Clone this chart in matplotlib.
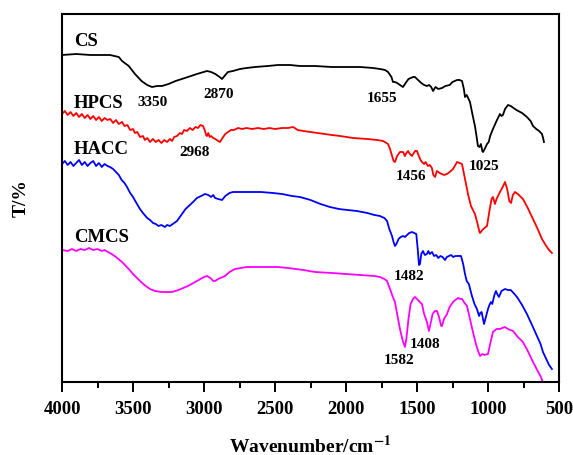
import numpy as np
import matplotlib
matplotlib.use("Agg")
import matplotlib.pyplot as plt
from matplotlib.ticker import MultipleLocator

plt.rcParams['font.family'] = ['Liberation Serif', 'DejaVu Serif']
plt.rcParams['font.weight'] = 'bold'
plt.rcParams['mathtext.fontset'] = 'stix'

# FTIR spectra (wavenumber in cm^-1). Curves are stacked; values are given as
# depth below the top of the plotting window and converted to T below.
cs_wn = [4000, 3900, 3800, 3700, 3662, 3600, 3577, 3530, 3486, 3440, 3400, 3366, 3330, 3296,
         3250, 3200, 3113, 3050, 2979, 2950, 2920, 2890, 2873, 2850, 2831, 2796, 2747, 2700,
         2641, 2550, 2480, 2394, 2324, 2218, 2100, 2000, 1900, 1810, 1761, 1725, 1704, 1680,
         1669, 1655, 1640, 1620, 1599, 1580, 1560, 1528, 1514, 1500, 1470, 1450, 1430, 1415,
         1400, 1387, 1370, 1350, 1324, 1300, 1270, 1250, 1218, 1200, 1183, 1170, 1162, 1150,
         1140, 1127, 1110, 1092, 1080, 1071, 1060, 1050, 1040, 1035, 1020, 1007, 995, 985,
         965, 940, 916, 905, 895, 880, 859, 840, 800, 760, 726, 700, 683, 660, 640, 620,
         612, 606]
cs_depth = [56, 55, 56, 56, 56, 58, 62, 67, 75, 82, 86, 88, 87, 87,
            85, 82, 78, 75, 72, 73, 75, 78, 80, 76, 73, 72, 70, 69,
            68, 67, 66, 66, 67, 67, 68, 68, 68, 69, 70, 71, 73, 78,
            83, 83, 84, 86, 88, 84, 80, 78, 78, 80, 84, 86, 87, 86,
            88, 92, 88, 90, 89, 87, 86, 83, 81, 81, 82, 90, 98, 96,
            99, 103, 115, 127, 138, 147, 148, 145, 152, 153, 149, 145, 143, 137,
            130, 122, 115, 117, 116, 110, 106, 107, 111, 114, 118, 122, 127, 130, 132, 135,
            139, 143]

hpcs_wn = [4000, 3980, 3960, 3940, 3920, 3900, 3880, 3860, 3840, 3820, 3800, 3780, 3760, 3740,
           3720, 3700, 3680, 3660, 3640, 3620, 3600, 3577, 3560, 3540, 3520, 3500, 3486, 3470,
           3450, 3430, 3416, 3400, 3380, 3360, 3340, 3320, 3300, 3280, 3260, 3240, 3225, 3210,
           3190, 3170, 3155, 3140, 3120, 3100, 3080, 3060, 3042, 3025, 3007, 2995, 2985, 2979,
           2970, 2960, 2950, 2935, 2920, 2900, 2887, 2870, 2850, 2831, 2810, 2790, 2760, 2732,
           2700, 2660, 2620, 2580, 2540, 2500, 2450, 2408, 2373, 2340, 2300, 2250, 2200, 2150,
           2100, 2042, 1950, 1850, 1780, 1739, 1704, 1690, 1675, 1665, 1655, 1640, 1620, 1598,
           1585, 1575, 1563, 1550, 1535, 1514, 1500, 1490, 1475, 1465, 1450, 1440, 1423, 1410,
           1395, 1385, 1373, 1360, 1340, 1310, 1289, 1270, 1246, 1230, 1218, 1200, 1183, 1165,
           1141, 1120, 1106, 1092, 1075, 1060, 1056, 1040, 1025, 1007, 990, 975, 965, 951,
           940, 916, 900, 880, 865, 850, 838, 825, 810, 790, 754, 720, 683, 650, 620, 590,
           570, 550]
hpcs_depth = [115, 112, 116, 113, 117, 114, 118, 115, 119, 116, 120, 117, 121, 118,
              122, 119, 121, 120, 124, 121, 125, 123, 127, 126, 131, 130, 134, 133,
              138, 137, 141, 139, 143, 140, 143, 141, 144, 141, 143, 140, 142, 138,
              137, 134, 135, 131, 132, 129, 131, 128, 129, 126, 127, 131, 136, 137,
              134, 138, 137, 139, 140, 142, 143, 139, 135, 133, 131, 131, 129, 130,
              129, 130, 129, 130, 129, 130, 129, 129, 128, 131, 132, 133, 134, 135,
              136, 137, 139, 140, 141, 142, 145, 150, 157, 162, 163, 157, 153, 153,
              157, 154, 152, 155, 157, 152, 152, 156, 161, 163, 165, 163, 167, 166,
              169, 176, 178, 172, 174, 176, 175, 173, 170, 166, 163, 164, 165, 178,
              195, 207, 211, 215, 224, 233, 234, 231, 229, 227, 212, 200, 198, 205,
              200, 193, 189, 183, 190, 202, 204, 196, 193, 195, 200, 209, 220, 230, 240, 247,
              251, 254]

hacc_wn = [4000, 3980, 3960, 3940, 3920, 3900, 3880, 3860, 3840, 3820, 3800, 3780, 3760, 3740,
           3720, 3700, 3680, 3662, 3640, 3620, 3600, 3580, 3560, 3542, 3520, 3500, 3480, 3451,
           3430, 3400, 3380, 3359, 3340, 3320, 3300, 3275, 3260, 3240, 3220, 3190, 3160, 3130,
           3100, 3077, 3050, 3020, 2993, 2970, 2950, 2935, 2922, 2900, 2873, 2850, 2820, 2796,
           2750, 2700, 2676, 2600, 2514, 2450, 2380, 2324, 2250, 2180, 2113, 2050, 1990, 1923,
           1850, 1800, 1761, 1730, 1711, 1695, 1676, 1665, 1655, 1645, 1630, 1615, 1598, 1585,
           1570, 1555, 1535, 1520, 1505, 1495, 1486, 1479, 1470, 1458, 1445, 1430, 1420, 1410,
           1394, 1380, 1365, 1350, 1335, 1320, 1303, 1290, 1275, 1260, 1245, 1230, 1210, 1190,
           1175, 1162, 1150, 1135, 1113, 1095, 1078, 1063, 1055, 1045, 1035, 1028, 1015, 1000,
           990, 979, 970, 955, 944, 935, 923, 905, 880, 860, 840, 820, 796, 760, 726, 690,
           655, 630, 613, 590, 570, 550]
hacc_depth = [165, 162, 166, 163, 167, 164, 161, 166, 163, 167, 164, 162, 167, 164,
              168, 165, 167, 168, 170, 173, 176, 181, 184, 188, 194, 198, 203, 210,
              214, 219, 221, 224, 225, 227, 226, 228, 226, 227, 225, 222, 216, 210,
              206, 203, 199, 197, 195, 196, 198, 196, 199, 200, 201, 197, 194, 193,
              193, 193, 193, 193, 194, 195, 197, 198, 201, 205, 208, 210, 211, 212,
              214, 216, 217, 219, 222, 230, 237, 243, 247, 245, 240, 238, 237, 238,
              236, 234, 233, 234, 235, 250, 266, 265, 255, 252, 256, 255, 252, 255,
              253, 257, 256, 259, 257, 258, 261, 258, 257, 256, 258, 257, 257, 257,
              265, 275, 282, 285, 297, 305, 310, 317, 314, 313, 320, 325, 318, 310,
              306, 303, 305, 296, 292, 295, 298, 292, 290, 291, 291, 294, 298, 306, 315, 326,
              337, 345, 353, 360, 366, 370]

cmcs_wn = [4000, 3960, 3930, 3900, 3870, 3840, 3810, 3780, 3750, 3720, 3700, 3676, 3650, 3620,
           3577, 3530, 3500, 3465, 3420, 3380, 3345, 3300, 3260, 3225, 3180, 3113, 3050, 3000,
           2979, 2955, 2935, 2922, 2900, 2852, 2820, 2782, 2700, 2641, 2550, 2480, 2408, 2300,
           2218, 2100, 2000, 1900, 1800, 1761, 1730, 1711, 1690, 1670, 1655, 1640, 1620, 1600,
           1585, 1575, 1560, 1545, 1528, 1514, 1500, 1480, 1465, 1450, 1430, 1416, 1405, 1390,
           1375, 1359, 1345, 1330, 1324, 1310, 1289, 1270, 1246, 1230, 1211, 1195, 1183, 1170,
           1148, 1127, 1106, 1085, 1070, 1056, 1040, 1025, 1000, 985, 965, 940, 916, 900,
           880, 860, 824, 790, 754, 720, 683, 650, 627, 610, 590]
cmcs_depth = [251, 252, 250, 252, 250, 251, 249, 251, 250, 252, 251, 253, 255, 258,
              263, 270, 275, 280, 286, 290, 292, 293, 293, 293, 291, 287, 282, 278,
              277, 279, 282, 282, 280, 277, 273, 270, 268, 268, 268, 268, 269, 271,
              273, 274, 275, 276, 277, 278, 280, 282, 290, 298, 303, 315, 330, 342,
              348, 340, 320, 305, 300, 298, 300, 303, 305, 315, 323, 332, 325, 315,
              312, 312, 318, 327, 327, 320, 315, 308, 303, 301, 299, 300, 300, 303,
              307, 320, 333, 345, 352, 357, 355, 356, 355, 345, 333, 330, 330, 329,
              328, 330, 332, 338, 343, 352, 363, 372, 378, 385, 390]

series = [
    ("CS", cs_wn, cs_depth, "black"),
    ("HPCS", hpcs_wn, hpcs_depth, "#ff0000"),
    ("HACC", hacc_wn, hacc_depth, "#0000ff"),
    ("CMCS", cmcs_wn, cmcs_depth, "#ff00ff"),
]

# Curve names: (text, x in cm^-1, depth)
name_labels = [("CS", 3915, 42), ("HPCS", 3915, 104), ("HACC", 3915, 150), ("CMCS", 3915, 238)]

# Band assignments: (text, x in cm^-1, depth)
peak_labels = [
    ("3350", 3360, 102), ("2870", 2900, 94), ("2968", 3063, 153),
    ("1655", 1747, 98), ("1456", 1542, 177), ("1025", 1028, 166),
    ("1482", 1556, 277), ("1408", 1444, 344), ("1582", 1627, 361),
]

TOP = 400

fig = plt.figure(figsize=(5.73, 4.56), dpi=100)
ax = fig.add_axes([62 / 573, 73 / 456, 497 / 573, 368 / 456])

for name, wn, depth, color in series:
    t = TOP - np.asarray(depth, dtype=float)
    ax.plot(wn, t, color=color, lw=1.3, solid_joinstyle='round')

for text, x, d in name_labels:
    ax.text(x, TOP - d, text, fontsize=13.5, fontweight='bold', ha='left', va='center')

for text, x, d in peak_labels:
    ax.text(x, TOP - d, text, fontsize=11, fontweight='bold', ha='center', va='center')

ax.set_xlim(4000, 500)
ax.set_ylim(TOP - 383, TOP - 15)
ax.xaxis.set_major_locator(MultipleLocator(500))
ax.xaxis.set_minor_locator(MultipleLocator(250))
ax.tick_params(axis='x', which='major', direction='out', length=7, width=1.4,
               labelsize=13.5, pad=6)
ax.tick_params(axis='x', which='minor', direction='out', length=4, width=1.4)
ax.tick_params(axis='y', left=False, labelleft=False)
for lbl in ax.get_xticklabels():
    lbl.set_fontweight('bold')
for sp in ax.spines.values():
    sp.set_linewidth(1.5)

ax.set_xlabel("Wavenumber/cm$^{\\mathbf{-1}}$", fontsize=14, fontweight='bold', labelpad=12)
fig.text(21 / 573, 1 - 198 / 456, "T/%", rotation=90, fontsize=14, fontweight='bold',
         ha='center', va='center')

fig.savefig("out.png", dpi=100)
